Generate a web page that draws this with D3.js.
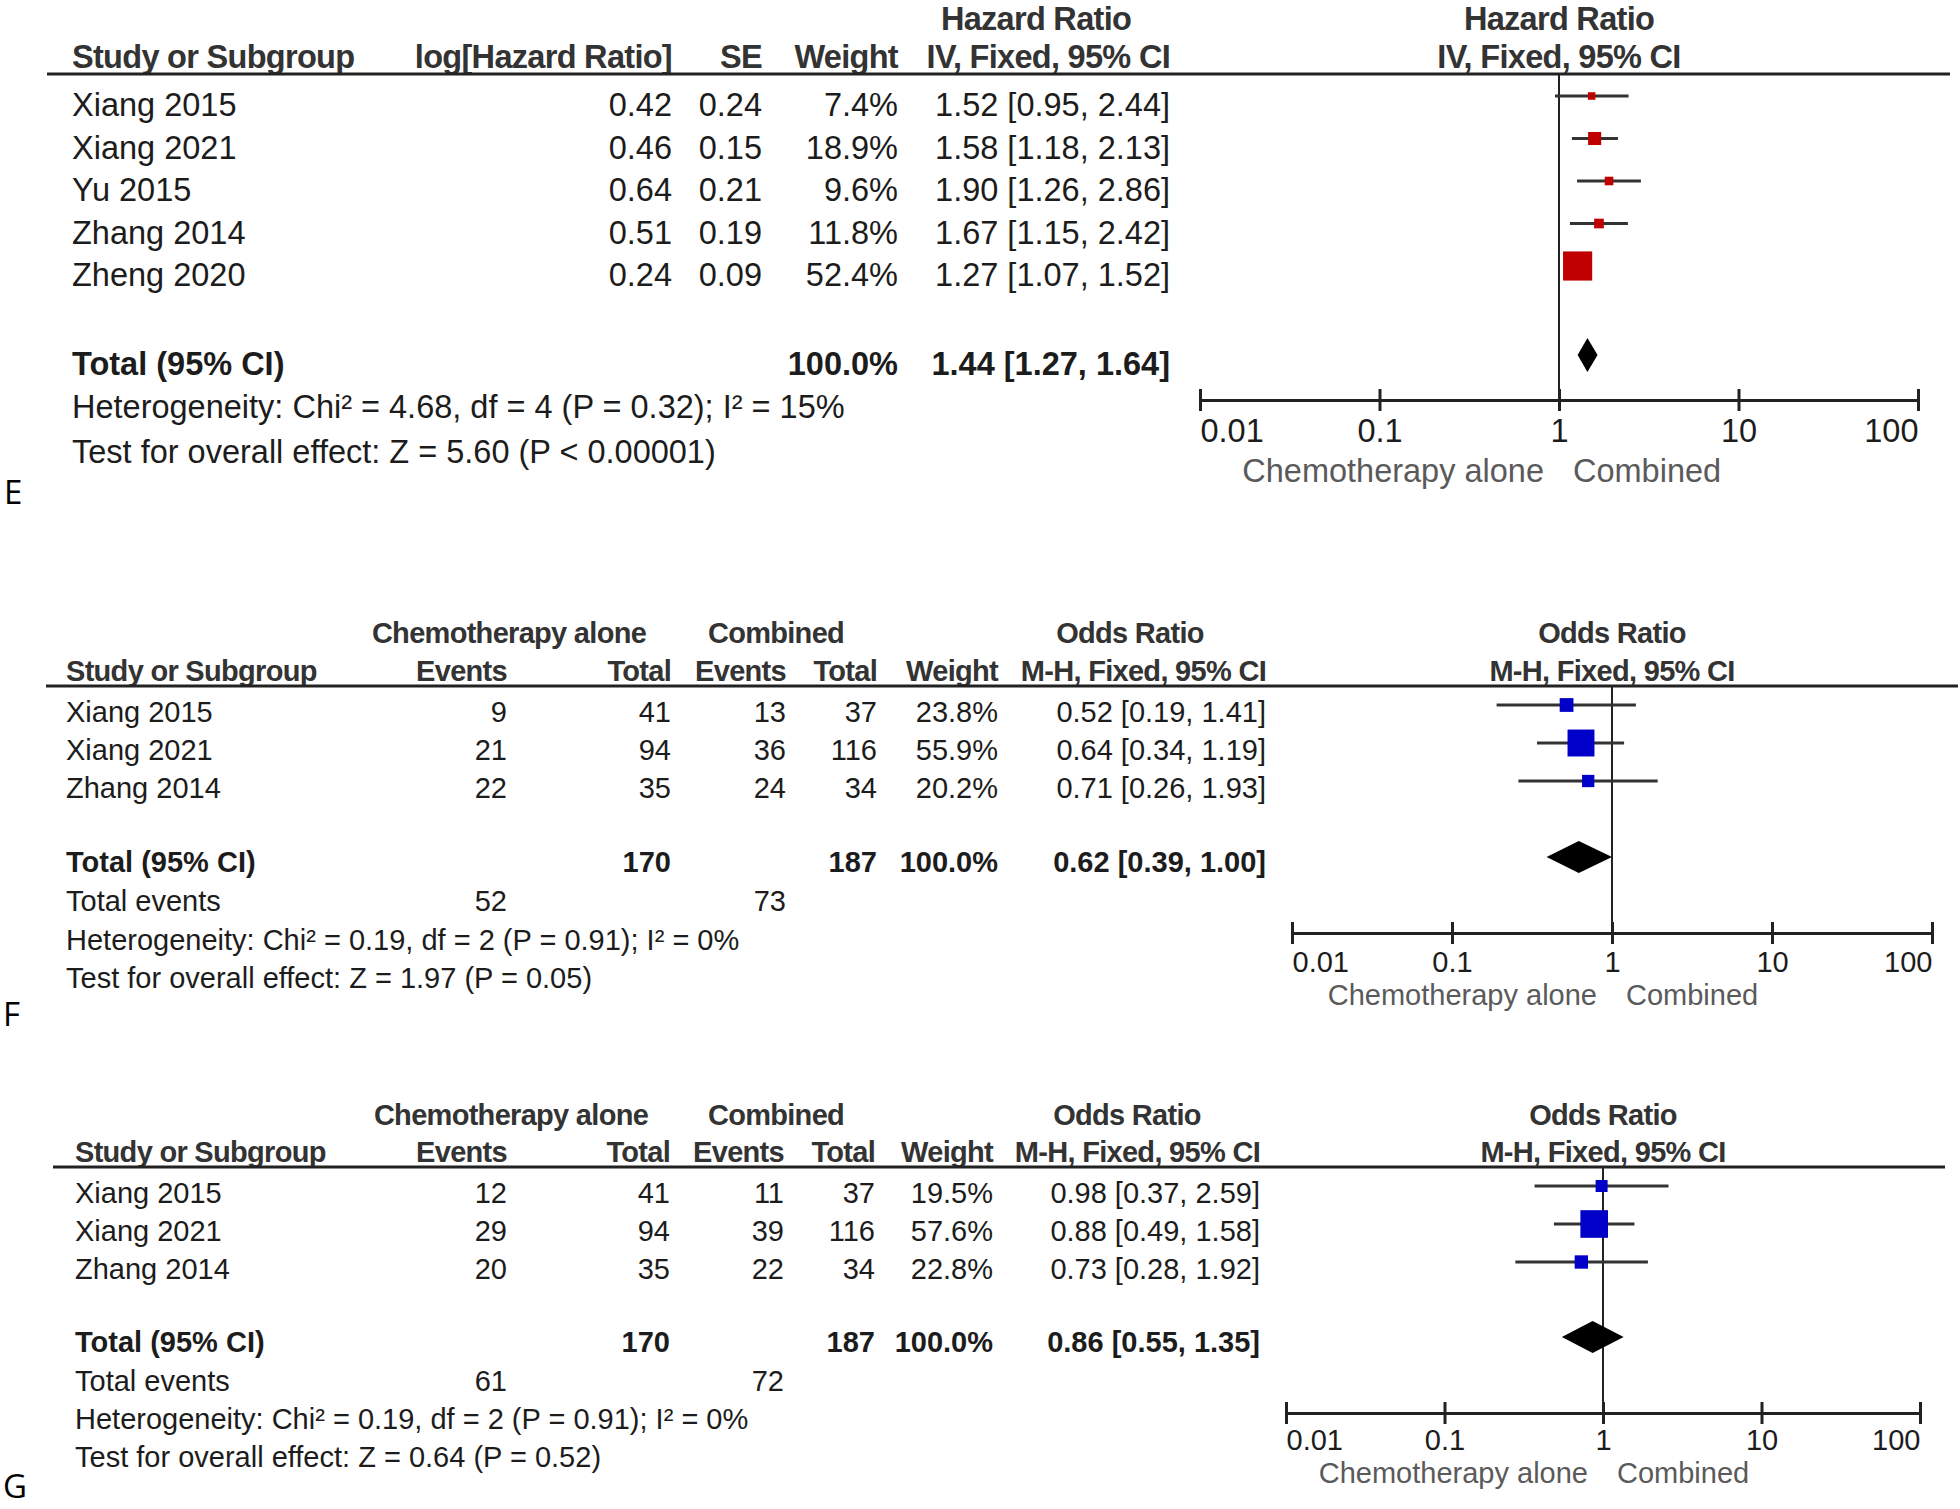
<!DOCTYPE html>
<html><head><meta charset="utf-8">
<script src="https://cdn.jsdelivr.net/npm/d3@7"></script>
<style>
body{margin:0;background:#fff}
svg{display:block}
text{font-family:"Liberation Sans",Arial,sans-serif}
</style>
</head><body>
<svg id="c" width="1960" height="1509"></svg>
<script>
// ---------- shared axis data ----------
const tickValues = [0.01, 0.1, 1, 10, 100];
const tickLabels = ["0.01", "0.1", "1", "10", "100"];
const leftCaption = "Chemotherapy alone";
const rightCaption = "Combined";

// ---------- Panel E (hazard ratio) ----------
const eStudies = ["Xiang 2015", "Xiang 2021", "Yu 2015", "Zhang 2014", "Zheng 2020"];
const eLogHR = [0.42, 0.46, 0.64, 0.51, 0.24];
const eSE = [0.24, 0.15, 0.21, 0.19, 0.09];
const eWeight = [7.4, 18.9, 9.6, 11.8, 52.4];
const eHR = [1.52, 1.58, 1.90, 1.67, 1.27];
const eLow = [0.95, 1.18, 1.26, 1.15, 1.07];
const eHigh = [2.44, 2.13, 2.86, 2.42, 1.52];
const eTotal = [1.44, 1.27, 1.64];          // estimate, low, high
const eTotalWeight = 100.0;
const eHeterogeneity = "Heterogeneity: Chi\u00b2 = 4.68, df = 4 (P = 0.32); I\u00b2 = 15%";
const eOverall = "Test for overall effect: Z = 5.60 (P < 0.00001)";

// ---------- Panel F (odds ratio) ----------
const fStudies = ["Xiang 2015", "Xiang 2021", "Zhang 2014"];
const fChemoEvents = [9, 21, 22];
const fChemoTotal = [41, 94, 35];
const fCombEvents = [13, 36, 24];
const fCombTotal = [37, 116, 34];
const fWeight = [23.8, 55.9, 20.2];
const fOR = [0.52, 0.64, 0.71];
const fLow = [0.19, 0.34, 0.26];
const fHigh = [1.41, 1.19, 1.93];
const fTotal = [0.62, 0.39, 1.00];
const fTotalN = [170, 187];
const fTotalEvents = [52, 73];
const fTotalWeight = 100.0;
const fHeterogeneity = "Heterogeneity: Chi\u00b2 = 0.19, df = 2 (P = 0.91); I\u00b2 = 0%";
const fOverall = "Test for overall effect: Z = 1.97 (P = 0.05)";

// ---------- Panel G (odds ratio) ----------
const gStudies = ["Xiang 2015", "Xiang 2021", "Zhang 2014"];
const gChemoEvents = [12, 29, 20];
const gChemoTotal = [41, 94, 35];
const gCombEvents = [11, 39, 22];
const gCombTotal = [37, 116, 34];
const gWeight = [19.5, 57.6, 22.8];
const gOR = [0.98, 0.88, 0.73];
const gLow = [0.37, 0.49, 0.28];
const gHigh = [2.59, 1.58, 1.92];
const gTotal = [0.86, 0.55, 1.35];
const gTotalN = [170, 187];
const gTotalEvents = [61, 72];
const gTotalWeight = 100.0;
const gHeterogeneity = "Heterogeneity: Chi\u00b2 = 0.19, df = 2 (P = 0.91); I\u00b2 = 0%";
const gOverall = "Test for overall effect: Z = 0.64 (P = 0.52)";

// ---------- helpers ----------
const svg = d3.select("#c");
const f2 = d3.format(".2f"), f1 = d3.format(".1f");
const ci = (e, l, h) => `${f2(e)} [${f2(l)}, ${f2(h)}]`;
const pct = w => f1(w) + "%";
const HDR = "#333", BODY = "#1c1c1c", CAP = "#5a5a5a", LINE = "#222";

function txt(g, x, y, s, o = {}) {
  const t = g.append("text").attr("x", x).attr("y", y)
    .attr("text-anchor", o.anchor || "start")
    .attr("font-size", o.size)
    .attr("font-weight", o.bold ? "bold" : "normal")
    .attr("fill", o.fill || BODY)
    .text(s);
  if (o.tight) t.attr("letter-spacing", -0.7);
  return t;
}
// header text: bold, slightly condensed, dark grey
const hdr = (g, x, y, s, size, anchor) =>
  txt(g, x, y, s, {anchor: anchor || "start", bold: 1, tight: 1, size, fill: HDR});

function forest(g, o) {
  const x = d3.scaleLog().domain([0.01, 100]).range(o.range);
  const boxSize = d3.scaleLinear().domain([0, 100]).range(o.box);
  // header rule
  g.append("line").attr("x1", o.ruleX[0]).attr("x2", o.ruleX[1])
    .attr("y1", o.ruleY).attr("y2", o.ruleY).attr("stroke", LINE).attr("stroke-width", 3);
  // plot headers
  hdr(g, x(1), o.h1Y, o.h1, o.fs, "middle");
  hdr(g, x(1), o.h2Y, o.h2, o.fs, "middle");
  // line of no effect
  g.append("line").attr("x1", x(1)).attr("x2", x(1))
    .attr("y1", o.ruleY).attr("y2", o.axisY).attr("stroke", LINE).attr("stroke-width", 2);
  // study CIs and boxes
  o.est.forEach((e, i) => {
    const cy = o.rowY(i) - o.mOff;
    g.append("line").attr("x1", x(o.lo[i])).attr("x2", x(o.hi[i]))
      .attr("y1", cy).attr("y2", cy).attr("stroke", "#333").attr("stroke-width", 3);
    const s = boxSize(o.w[i]);
    g.append("rect").attr("x", x(e) - s / 2).attr("y", cy - s / 2)
      .attr("width", s).attr("height", s).attr("fill", o.color);
  });
  // pooled diamond
  const [te, tl, th] = o.total;
  const cy = o.totalY - o.dOff;
  g.append("path")
    .attr("d", `M${x(tl)},${cy}L${x(te)},${cy - o.dH}L${x(th)},${cy}L${x(te)},${cy + o.dH}Z`)
    .attr("fill", "#000");
  // axis
  const ax = g.append("g").attr("transform", `translate(0,${o.axisY})`)
    .call(d3.axisBottom(x).tickValues(tickValues).tickFormat((d, i) => tickLabels[i])
      .tickSizeOuter(0).tickSizeInner(11));
  ax.attr("font-family", null).attr("font-size", null);
  ax.select(".domain").attr("stroke", LINE).attr("stroke-width", 3);
  ax.selectAll(".tick line").attr("y1", -11).attr("y2", 11).attr("stroke", LINE).attr("stroke-width", 3);
  ax.selectAll(".tick text").attr("y", o.tickY - o.axisY).attr("dy", null)
    .attr("font-size", o.fs).attr("fill", BODY)
    .attr("text-anchor", (d, i) => i === 0 ? "start" : (i === tickValues.length - 1 ? "end" : "middle"));
  // captions
  txt(g, x(1) - 15, o.capY, leftCaption, {anchor: "end", size: o.fs, fill: CAP});
  txt(g, x(1) + 14, o.capY, rightCaption, {size: o.fs, fill: CAP});
}

function panelLabel(x, y, s) {
  svg.append("text").attr("x", x).attr("y", y).attr("font-size", 33)
    .style("font-family", "'Open Sans', sans-serif").attr("fill", "#000").text(s);
}

// ---------- draw Panel E ----------
(function () {
  const g = svg.append("g"), fs = 32.5;
  const y = d3.scaleLinear().domain([0, 1]).range([116, 158.5]);
  const c = {study: 72, log: 672, se: 762, w: 898, ci: 1170};
  const h1Y = 30, hy = 68;
  hdr(g, 1036, h1Y, "Hazard Ratio", fs, "middle");
  hdr(g, c.study, hy, "Study or Subgroup", fs);
  hdr(g, c.log, hy, "log[Hazard Ratio]", fs, "end");
  hdr(g, c.se, hy, "SE", fs, "end");
  hdr(g, c.w, hy, "Weight", fs, "end");
  hdr(g, c.ci, hy, "IV, Fixed, 95% CI", fs, "end");
  eStudies.forEach((s, i) => {
    txt(g, c.study, y(i), s, {size: fs});
    txt(g, c.log, y(i), f2(eLogHR[i]), {anchor: "end", size: fs});
    txt(g, c.se, y(i), f2(eSE[i]), {anchor: "end", size: fs});
    txt(g, c.w, y(i), pct(eWeight[i]), {anchor: "end", size: fs});
    txt(g, c.ci, y(i), ci(eHR[i], eLow[i], eHigh[i]), {anchor: "end", size: fs});
  });
  const ty = 375;
  txt(g, c.study, ty, "Total (95% CI)", {bold: 1, size: fs});
  txt(g, c.w, ty, pct(eTotalWeight), {anchor: "end", bold: 1, size: fs});
  txt(g, c.ci, ty, ci(...eTotal), {anchor: "end", bold: 1, size: fs});
  txt(g, c.study, 418, eHeterogeneity, {size: fs});
  txt(g, c.study, 463, eOverall, {size: fs});
  forest(g, {fs, range: [1200, 1918], ruleX: [47, 1950], ruleY: 74, axisY: 400,
    h1: "Hazard Ratio", h1Y: h1Y, h2: "IV, Fixed, 95% CI", h2Y: hy, box: [4, 52],
    est: eHR, lo: eLow, hi: eHigh, w: eWeight, rowY: y, mOff: 20, color: "#c00000",
    total: eTotal, totalY: ty, dOff: 20, dH: 17, tickY: 442, capY: 482});
  panelLabel(4, 504, "E");
})();

// ---------- draw odds-ratio panels ----------
function orPanel(d, L) {
  const g = svg.append("g"), fs = 29;
  const y = d3.scaleLinear().domain([0, 1]).range([L.row0, L.row0 + L.step]);
  const c = L.cols;
  hdr(g, L.hdrChemo, L.h1Y, "Chemotherapy alone", fs, "middle");
  hdr(g, L.hdrComb, L.h1Y, "Combined", fs, "middle");
  hdr(g, L.hdrOR, L.h1Y, "Odds Ratio", fs, "middle");
  hdr(g, c.study, L.h2Y, "Study or Subgroup", fs);
  hdr(g, c.ce, L.h2Y, "Events", fs, "end");
  hdr(g, c.ct, L.h2Y, "Total", fs, "end");
  hdr(g, c.be, L.h2Y, "Events", fs, "end");
  hdr(g, c.bt, L.h2Y, "Total", fs, "end");
  hdr(g, c.w, L.h2Y, "Weight", fs, "end");
  hdr(g, c.ci, L.h2Y, "M-H, Fixed, 95% CI", fs, "end");
  d.studies.forEach((s, i) => {
    txt(g, c.study, y(i), s, {size: fs});
    txt(g, c.ce, y(i), d.ce[i], {anchor: "end", size: fs});
    txt(g, c.ct, y(i), d.ct[i], {anchor: "end", size: fs});
    txt(g, c.be, y(i), d.be[i], {anchor: "end", size: fs});
    txt(g, c.bt, y(i), d.bt[i], {anchor: "end", size: fs});
    txt(g, c.w, y(i), pct(d.w[i]), {anchor: "end", size: fs});
    txt(g, c.ci, y(i), ci(d.or[i], d.lo[i], d.hi[i]), {anchor: "end", size: fs});
  });
  txt(g, c.study, L.totY, "Total (95% CI)", {bold: 1, size: fs});
  txt(g, c.ct, L.totY, d.totN[0], {anchor: "end", bold: 1, size: fs});
  txt(g, c.bt, L.totY, d.totN[1], {anchor: "end", bold: 1, size: fs});
  txt(g, c.w, L.totY, pct(d.totW), {anchor: "end", bold: 1, size: fs});
  txt(g, c.ci, L.totY, ci(...d.total), {anchor: "end", bold: 1, size: fs});
  txt(g, c.study, L.evY, "Total events", {size: fs});
  txt(g, c.ce, L.evY, d.totEv[0], {anchor: "end", size: fs});
  txt(g, c.be, L.evY, d.totEv[1], {anchor: "end", size: fs});
  txt(g, c.study, L.hetY, d.het, {size: fs});
  txt(g, c.study, L.testY, d.test, {size: fs});
  forest(g, {fs, range: L.range, ruleX: L.ruleX, ruleY: L.ruleY, axisY: L.axisY,
    h1: "Odds Ratio", h1Y: L.h1Y, h2: "M-H, Fixed, 95% CI", h2Y: L.h2Y, box: [4, 45],
    est: d.or, lo: d.lo, hi: d.hi, w: d.w, rowY: y, mOff: 17, color: "#0000c8",
    total: d.total, totalY: L.totY, dOff: 15, dH: 16, tickY: L.tickY, capY: L.capY});
  panelLabel(L.labX, L.labY, L.label);
}

orPanel({studies: fStudies, ce: fChemoEvents, ct: fChemoTotal, be: fCombEvents, bt: fCombTotal,
  w: fWeight, or: fOR, lo: fLow, hi: fHigh, total: fTotal, totN: fTotalN, totEv: fTotalEvents,
  totW: fTotalWeight, het: fHeterogeneity, test: fOverall},
  {row0: 722, step: 38, h1Y: 643, h2Y: 681, ruleY: 686, ruleX: [46, 1958],
   cols: {study: 66, ce: 507, ct: 671, be: 786, bt: 877, w: 998, ci: 1266},
   hdrChemo: 509, hdrComb: 776, hdrOR: 1130,
   totY: 872, evY: 911, hetY: 950, testY: 988,
   range: [1292, 1932], axisY: 933, tickY: 972, capY: 1005,
   label: "F", labX: 3, labY: 1026});

orPanel({studies: gStudies, ce: gChemoEvents, ct: gChemoTotal, be: gCombEvents, bt: gCombTotal,
  w: gWeight, or: gOR, lo: gLow, hi: gHigh, total: gTotal, totN: gTotalN, totEv: gTotalEvents,
  totW: gTotalWeight, het: gHeterogeneity, test: gOverall},
  {row0: 1203, step: 38, h1Y: 1125, h2Y: 1162, ruleY: 1167, ruleX: [53, 1945],
   cols: {study: 75, ce: 507, ct: 670, be: 784, bt: 875, w: 993, ci: 1260},
   hdrChemo: 511, hdrComb: 776, hdrOR: 1127,
   totY: 1352, evY: 1391, hetY: 1429, testY: 1467,
   range: [1286, 1920], axisY: 1413, tickY: 1450, capY: 1483,
   label: "G", labX: 3, labY: 1498});
</script>
</body></html>
